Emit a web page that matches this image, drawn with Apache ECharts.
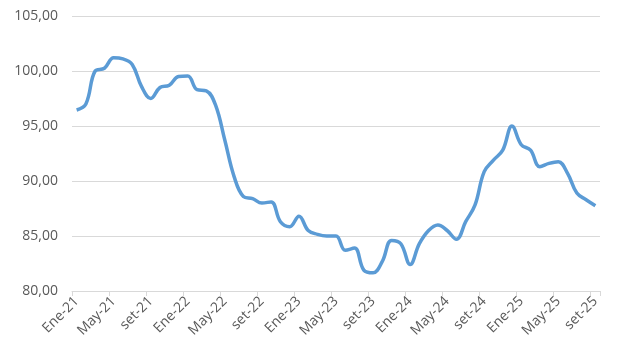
<!DOCTYPE html>
<html>
<head>
<meta charset="utf-8">
<script src="https://cdn.jsdelivr.net/npm/echarts@6/dist/echarts.min.js"></script>
<style>
  html, body { margin: 0; padding: 0; background: #fff; }
  #chart { width: 622px; height: 353px; }
</style>
</head>
<body>
<div id="chart"></div>
<script>
// meses en español, tal como aparecen en el eje
var meses = ['Ene', 'Feb', 'Mar', 'Abr', 'May', 'Jun', 'Jul', 'Ago', 'set', 'Oct', 'Nov', 'Dic']
var anios = ['21', '22', '23', '24', '25']

// Ene-21 ... set-25 (57 meses)
var categorias = []
anios.forEach(function (a) {
  meses.forEach(function (m) {
    categorias.push(m + '-' + a)
  })
})
categorias = categorias.slice(0, 57)

var valores = [
  96.45, 97.0, 100.0, 100.25, 101.2, 101.1, 100.6, 98.6, 97.5, 98.5, 98.7, 99.5,
  99.55, 98.3, 98.2, 96.9, 93.7, 90.4, 88.6, 88.4, 88.0, 88.1, 86.3, 85.85,
  86.8, 85.5, 85.15, 85.0, 85.0, 83.7, 83.9, 81.9, 81.65, 82.7, 84.6, 84.3,
  82.4, 84.3, 85.5, 86.0, 85.5, 84.7, 86.3, 87.8, 90.85, 91.9, 92.8, 95.0,
  93.3, 92.8, 91.3, 91.6, 91.75, 90.7, 88.9, 88.3, 87.75
]

var yMin = 80
var yMax = 105
var yPaso = 5

var chart = echarts.init(document.getElementById('chart'))
chart.setOption({
  animation: false,
  grid: { left: 72, right: 22, top: 16, bottom: 62 },
  xAxis: {
    type: 'category',
    data: categorias,
    boundaryGap: true,
    axisLine: { lineStyle: { color: '#d9d9d9', width: 1 } },
    axisTick: { show: true, interval: 3, length: 5, lineStyle: { color: '#d9d9d9' } },
    axisLabel: {
      interval: 3,
      rotate: 45,
      margin: 8,
      color: '#595959',
      fontSize: 14,
      fontFamily: 'Open Sans'
    },
    splitLine: { show: false }
  },
  yAxis: {
    type: 'value',
    min: yMin,
    max: yMax,
    interval: yPaso,
    axisLine: { show: false },
    axisTick: { show: false },
    axisLabel: {
      margin: 14,
      color: '#595959',
      fontSize: 14,
      fontFamily: 'Open Sans',
      formatter: function (v) { return v.toFixed(2).replace('.', ',') }
    },
    splitLine: { lineStyle: { color: '#d9d9d9', width: 1 } }
  },
  series: [{
    type: 'line',
    data: valores,
    smooth: 0.4,
    showSymbol: false,
    lineStyle: { color: '#5b9bd5', width: 3.5 }
  }]
})
</script>
</body>
</html>
